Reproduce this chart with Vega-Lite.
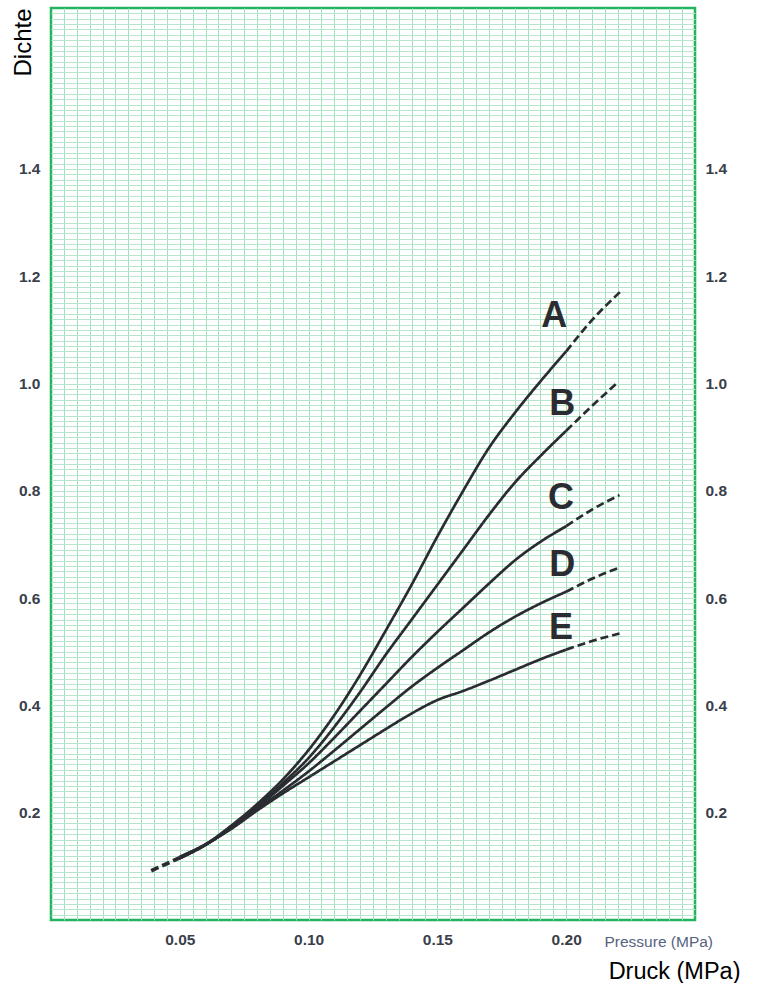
{
  "$schema": "https://vega.github.io/schema/vega-lite/v6.json",
  "width": 644,
  "height": 912,
  "autosize": {"type": "none"},
  "padding": {"left": 51, "top": 8, "right": 65, "bottom": 63},
  "background": "white",
  "config": {
    "view": {"stroke": "#22b45e", "strokeWidth": 2.5},
    "font": "Liberation Sans",
    "axis": {"labelFont": "Liberation Sans", "titleFont": "Liberation Sans"}
  },
  "datasets": {
    "curves": [
      {"s": "S", "seg": "dashed", "x": 0.0389, "y": 0.092},
      {"s": "S", "seg": "dashed", "x": 0.0500, "y": 0.116},

      {"s": "A", "seg": "solid", "x": 0.05, "y": 0.115},
      {"s": "A", "seg": "solid", "x": 0.06, "y": 0.141},
      {"s": "A", "seg": "solid", "x": 0.07, "y": 0.176},
      {"s": "A", "seg": "solid", "x": 0.08, "y": 0.216},
      {"s": "A", "seg": "solid", "x": 0.09, "y": 0.262},
      {"s": "A", "seg": "solid", "x": 0.10, "y": 0.317},
      {"s": "A", "seg": "solid", "x": 0.11, "y": 0.382},
      {"s": "A", "seg": "solid", "x": 0.12, "y": 0.457},
      {"s": "A", "seg": "solid", "x": 0.13, "y": 0.54},
      {"s": "A", "seg": "solid", "x": 0.14, "y": 0.625},
      {"s": "A", "seg": "solid", "x": 0.15, "y": 0.715},
      {"s": "A", "seg": "solid", "x": 0.16, "y": 0.80},
      {"s": "A", "seg": "solid", "x": 0.17, "y": 0.88},
      {"s": "A", "seg": "solid", "x": 0.18, "y": 0.945},
      {"s": "A", "seg": "solid", "x": 0.19, "y": 1.004},
      {"s": "A", "seg": "solid", "x": 0.20, "y": 1.06},
      {"s": "A", "seg": "dashed", "x": 0.20, "y": 1.06},
      {"s": "A", "seg": "dashed", "x": 0.21, "y": 1.118},
      {"s": "A", "seg": "dashed", "x": 0.2214, "y": 1.173},

      {"s": "B", "seg": "solid", "x": 0.05, "y": 0.115},
      {"s": "B", "seg": "solid", "x": 0.06, "y": 0.14},
      {"s": "B", "seg": "solid", "x": 0.07, "y": 0.174},
      {"s": "B", "seg": "solid", "x": 0.08, "y": 0.212},
      {"s": "B", "seg": "solid", "x": 0.09, "y": 0.255},
      {"s": "B", "seg": "solid", "x": 0.10, "y": 0.302},
      {"s": "B", "seg": "solid", "x": 0.11, "y": 0.36},
      {"s": "B", "seg": "solid", "x": 0.12, "y": 0.425},
      {"s": "B", "seg": "solid", "x": 0.13, "y": 0.495},
      {"s": "B", "seg": "solid", "x": 0.14, "y": 0.56},
      {"s": "B", "seg": "solid", "x": 0.15, "y": 0.625},
      {"s": "B", "seg": "solid", "x": 0.16, "y": 0.69},
      {"s": "B", "seg": "solid", "x": 0.17, "y": 0.755},
      {"s": "B", "seg": "solid", "x": 0.18, "y": 0.815},
      {"s": "B", "seg": "solid", "x": 0.19, "y": 0.865},
      {"s": "B", "seg": "solid", "x": 0.20, "y": 0.912},
      {"s": "B", "seg": "dashed", "x": 0.20, "y": 0.912},
      {"s": "B", "seg": "dashed", "x": 0.21, "y": 0.958},
      {"s": "B", "seg": "dashed", "x": 0.2195, "y": 1.0},

      {"s": "C", "seg": "solid", "x": 0.05, "y": 0.116},
      {"s": "C", "seg": "solid", "x": 0.06, "y": 0.14},
      {"s": "C", "seg": "solid", "x": 0.07, "y": 0.172},
      {"s": "C", "seg": "solid", "x": 0.08, "y": 0.209},
      {"s": "C", "seg": "solid", "x": 0.09, "y": 0.25},
      {"s": "C", "seg": "solid", "x": 0.10, "y": 0.292},
      {"s": "C", "seg": "solid", "x": 0.11, "y": 0.34},
      {"s": "C", "seg": "solid", "x": 0.12, "y": 0.39},
      {"s": "C", "seg": "solid", "x": 0.13, "y": 0.44},
      {"s": "C", "seg": "solid", "x": 0.14, "y": 0.49},
      {"s": "C", "seg": "solid", "x": 0.15, "y": 0.537},
      {"s": "C", "seg": "solid", "x": 0.16, "y": 0.582},
      {"s": "C", "seg": "solid", "x": 0.17, "y": 0.627},
      {"s": "C", "seg": "solid", "x": 0.18, "y": 0.67},
      {"s": "C", "seg": "solid", "x": 0.19, "y": 0.705},
      {"s": "C", "seg": "solid", "x": 0.20, "y": 0.734},
      {"s": "C", "seg": "dashed", "x": 0.20, "y": 0.734},
      {"s": "C", "seg": "dashed", "x": 0.21, "y": 0.765},
      {"s": "C", "seg": "dashed", "x": 0.2207, "y": 0.792},

      {"s": "D", "seg": "solid", "x": 0.05, "y": 0.117},
      {"s": "D", "seg": "solid", "x": 0.06, "y": 0.141},
      {"s": "D", "seg": "solid", "x": 0.07, "y": 0.171},
      {"s": "D", "seg": "solid", "x": 0.08, "y": 0.206},
      {"s": "D", "seg": "solid", "x": 0.09, "y": 0.241},
      {"s": "D", "seg": "solid", "x": 0.10, "y": 0.277},
      {"s": "D", "seg": "solid", "x": 0.11, "y": 0.316},
      {"s": "D", "seg": "solid", "x": 0.12, "y": 0.356},
      {"s": "D", "seg": "solid", "x": 0.13, "y": 0.396},
      {"s": "D", "seg": "solid", "x": 0.14, "y": 0.435},
      {"s": "D", "seg": "solid", "x": 0.15, "y": 0.47},
      {"s": "D", "seg": "solid", "x": 0.16, "y": 0.503},
      {"s": "D", "seg": "solid", "x": 0.17, "y": 0.536},
      {"s": "D", "seg": "solid", "x": 0.18, "y": 0.565},
      {"s": "D", "seg": "solid", "x": 0.19, "y": 0.59},
      {"s": "D", "seg": "solid", "x": 0.20, "y": 0.612},
      {"s": "D", "seg": "dashed", "x": 0.20, "y": 0.612},
      {"s": "D", "seg": "dashed", "x": 0.21, "y": 0.636},
      {"s": "D", "seg": "dashed", "x": 0.2207, "y": 0.657},

      {"s": "E", "seg": "solid", "x": 0.05, "y": 0.118},
      {"s": "E", "seg": "solid", "x": 0.06, "y": 0.141},
      {"s": "E", "seg": "solid", "x": 0.07, "y": 0.17},
      {"s": "E", "seg": "solid", "x": 0.08, "y": 0.204},
      {"s": "E", "seg": "solid", "x": 0.09, "y": 0.236},
      {"s": "E", "seg": "solid", "x": 0.10, "y": 0.266},
      {"s": "E", "seg": "solid", "x": 0.11, "y": 0.296},
      {"s": "E", "seg": "solid", "x": 0.12, "y": 0.326},
      {"s": "E", "seg": "solid", "x": 0.13, "y": 0.356},
      {"s": "E", "seg": "solid", "x": 0.14, "y": 0.385},
      {"s": "E", "seg": "solid", "x": 0.15, "y": 0.41},
      {"s": "E", "seg": "solid", "x": 0.16, "y": 0.427},
      {"s": "E", "seg": "solid", "x": 0.17, "y": 0.446},
      {"s": "E", "seg": "solid", "x": 0.18, "y": 0.466},
      {"s": "E", "seg": "solid", "x": 0.19, "y": 0.486},
      {"s": "E", "seg": "solid", "x": 0.20, "y": 0.504},
      {"s": "E", "seg": "dashed", "x": 0.20, "y": 0.504},
      {"s": "E", "seg": "dashed", "x": 0.21, "y": 0.52},
      {"s": "E", "seg": "dashed", "x": 0.2207, "y": 0.534}
    ],
    "labels": [
      {"s": "A", "x": 0.1954, "y": 1.125},
      {"s": "B", "x": 0.1985, "y": 0.961},
      {"s": "C", "x": 0.198, "y": 0.787},
      {"s": "D", "x": 0.1985, "y": 0.661},
      {"s": "E", "x": 0.198, "y": 0.544}
    ]
  },
  "layer": [
    {
      "data": {"name": "labels"},
      "mark": {"type": "point", "opacity": 0},
      "encoding": {
        "x": {"field": "x", "type": "quantitative", "scale": {"domain": [0, 0.25], "nice": false, "zero": false},
          "axis": {"orient": "bottom", "grid": true, "tickCount": 50, "gridColor": "#a2dfbf", "gridWidth": 1,
            "gridOpacity": {"condition": {"test": "datum.value < 0.001 || datum.value > 0.249", "value": 0}, "value": 1},
            "labels": false, "ticks": false, "domain": false, "title": null}},
        "y": {"field": "y", "type": "quantitative", "scale": {"domain": [0, 1.7], "nice": false, "zero": false},
          "axis": {"orient": "left", "grid": true, "tickCount": 170, "gridColor": "#b6e7cc", "gridWidth": 1,
            "gridOpacity": {"condition": {"test": "datum.value < 0.001 || datum.value > 1.699", "value": 0}, "value": 1},
            "labels": false, "ticks": false, "domain": false, "title": null}}
      }
    },
    {
      "data": {"name": "curves"},
      "transform": [{"filter": "datum.s !== 'S'"}],
      "mark": {"type": "line", "interpolate": "monotone", "strokeWidth": 2.7, "color": "#2a2c32", "strokeCap": "butt"},
      "encoding": {
        "x": {"field": "x", "type": "quantitative",
          "axis": {"orient": "bottom", "values": [0.05, 0.1, 0.15, 0.2], "format": ".2f", "grid": false, "ticks": false, "domain": false,
            "labelFontSize": 15.5, "labelFontWeight": "bold", "labelColor": "#3a404a", "labelPadding": 12,
            "title": "Pressure (MPa)", "titleFontSize": 15.5, "titleFontWeight": "normal", "titleColor": "#56627e",
            "titleAlign": "left", "titleAnchor": null, "titleX": 553, "titleY": 26, "titleBaseline": "alphabetic"}},
        "y": {"field": "y", "type": "quantitative",
          "axis": {"orient": "left", "values": [0.2, 0.4, 0.6, 0.8, 1.0, 1.2, 1.4], "format": ".1f", "grid": false, "ticks": false, "domain": false,
            "labelFontSize": 15.5, "labelFontWeight": "bold", "labelColor": "#3a404a", "labelPadding": 11,
            "title": "Dichte", "titleFontSize": 24, "titleFontWeight": "normal", "titleColor": "#000000",
            "titleAngle": 270, "titleAlign": "right", "titleAnchor": null, "titleX": -21, "titleY": 0, "titleBaseline": "alphabetic"}},
        "detail": [{"field": "s"}, {"field": "seg"}],
        "strokeDash": {"field": "seg", "type": "nominal", "scale": {"domain": ["solid", "dashed"], "range": [[1, 0], [8, 4]]}, "legend": null}
      }
    },
    {
      "data": {"name": "curves"},
      "transform": [{"filter": "datum.s === 'S'"}],
      "mark": {"type": "line", "strokeWidth": 3.8, "color": "#2a2c32", "strokeCap": "butt", "strokeDash": [8, 4]},
      "encoding": {
        "x": {"field": "x", "type": "quantitative", "axis": null},
        "y": {"field": "y", "type": "quantitative", "axis": null}
      }
    },
    {
      "data": {"name": "labels"},
      "mark": {"type": "text", "fontSize": 36, "fontWeight": "bold", "font": "Liberation Sans", "color": "#2a2c32", "align": "center", "baseline": "middle"},
      "encoding": {
        "x": {"field": "x", "type": "quantitative",
          "axis": {"orient": "bottom", "labels": false, "ticks": false, "domain": false, "grid": false,
            "title": "Druck (MPa)", "titleFontSize": 23.5, "titleFontWeight": "normal", "titleColor": "#000000",
            "titleAlign": "right", "titleAnchor": null, "titleX": 689, "titleY": 58, "titleBaseline": "alphabetic"}},
        "y": {"field": "y", "type": "quantitative",
          "axis": {"orient": "right", "values": [0.2, 0.4, 0.6, 0.8, 1.0, 1.2, 1.4], "format": ".1f", "grid": false, "ticks": false, "domain": false,
            "labelFontSize": 15.5, "labelFontWeight": "bold", "labelColor": "#3a404a", "labelPadding": 10, "title": null}},
        "text": {"field": "s"}
      }
    }
  ],
  "resolve": {"axis": {"x": "independent", "y": "independent"}}
}
